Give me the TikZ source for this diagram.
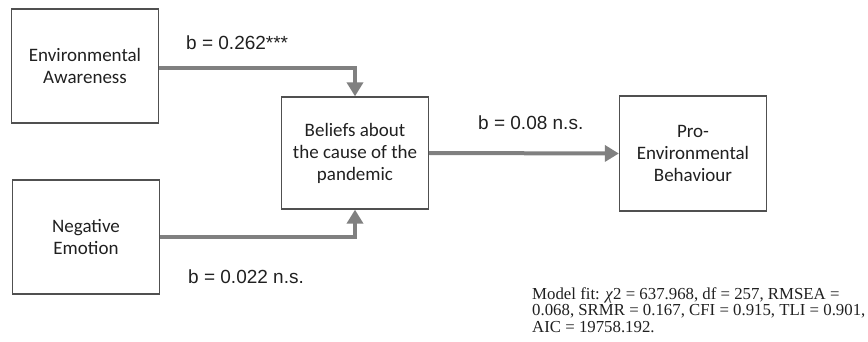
\documentclass[tikz,border=0pt]{standalone}
\usepackage{fontspec}
\setmainfont{Carlito}
\newfontfamily\labelfont{Liberation Sans}
\newfontfamily\fitfont{Liberation Serif}
\usetikzlibrary{arrows.meta}
\definecolor{boxgray}{HTML}{505050}
\definecolor{arrowgray}{HTML}{808080}
\definecolor{inkgray}{HTML}{202020}

\begin{document}
\begin{tikzpicture}[x=1pt, y=-1pt,
  varbox/.style={draw=boxgray, line width=1.3pt, minimum width=147pt,
    minimum height=114pt, inner sep=0pt, align=center,
    font=\fontsize{19}{22}\selectfont, text=inkgray},
  pathline/.style={draw=arrowgray, line width=4pt, line join=miter,
    -{Triangle[length=14pt, width=16pt]}},
  coef/.style={font=\labelfont\fontsize{19}{22}\selectfont, text=inkgray,
    anchor=west, inner sep=0pt}
]
\useasboundingbox (0,0) rectangle (868,342);

% variables of the path model
\node[varbox] (EA) at (85,66) {Environmental\\Awareness};
\node[varbox] (NE) at (86,237) {Negative\\Emotion};
\node[varbox, minimum height=112pt] (BE) at (355,153) {Beliefs about\\the cause of the\\pandemic};
\node[varbox, minimum height=115pt] (PB) at (693,153.5) {Pro-\\Environmental\\Behaviour};

% regression paths
\draw[pathline] ([yshift=-2pt]EA.east) -| (BE.north);
\draw[pathline] (NE.east) -| (BE.south);
\draw[pathline] (BE.east) -- (PB.west);

% path coefficients
\node[coef] (c1) at (186,43) {b = 0.262***};
\node[coef] (c2) at (188,277) {b = 0.022 n.s.};
\node[coef] (c3) at (478,123) {b = 0.08 n.s.};

% fit indices
\node[anchor=north west, inner sep=0pt, align=left, text=inkgray,
  font=\fitfont\fontsize{16.8}{16.8}\selectfont] (fit) at (532,287)
  {Model fit: \textit{χ}2 = 637.968, df = 257, RMSEA =\\
   0.068, SRMR = 0.167, CFI = 0.915, TLI = 0.901,\\
   AIC = 19758.192.};
\end{tikzpicture}
\end{document}
